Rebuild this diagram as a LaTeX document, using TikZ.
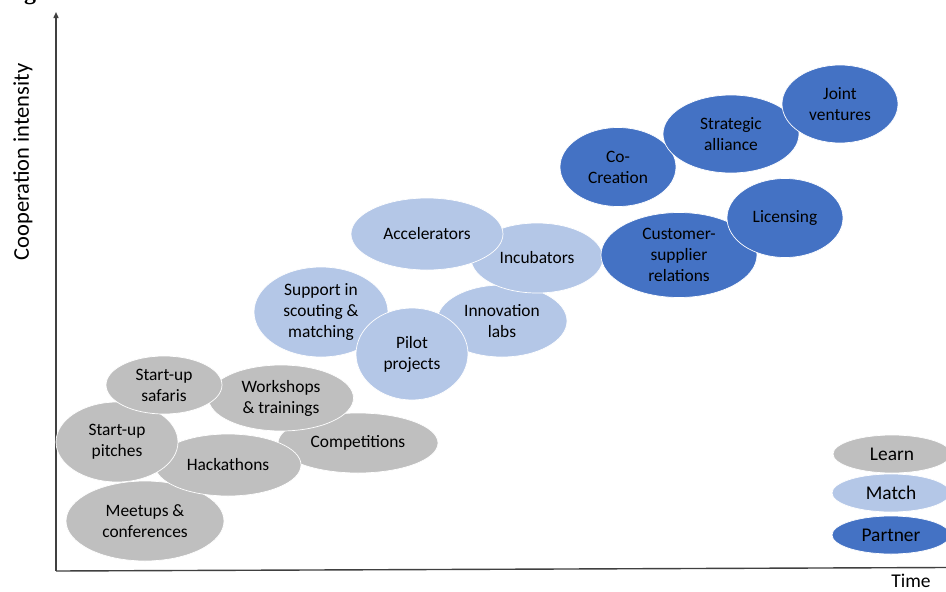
\documentclass[tikz,border=0pt]{standalone}
\usepackage{fontspec}
\setmainfont{Carlito}
\newfontfamily\capfont{Liberation Serif}
\usetikzlibrary{shapes.geometric,arrows.meta}
\definecolor{learncol}{HTML}{BFBFBF}
\definecolor{matchcol}{HTML}{B4C7E7}
\definecolor{partnercol}{HTML}{4472C4}
\definecolor{axiscol}{HTML}{404040}
\definecolor{txtcol}{HTML}{000000}
\tikzset{
  blob/.style={ellipse, inner sep=0pt, draw=white, line width=0.7pt, align=center,
    font=\fontsize{17.4}{21}\selectfont, text=txtcol},
  learn/.style={blob, fill=learncol},
  match/.style={blob, fill=matchcol},
  partner/.style={blob, fill=partnercol},
  legendtext/.style={font=\fontsize{19.4}{22}\selectfont},
  sz/.style 2 args={minimum width=#1, minimum height=#2},
  axis/.style={draw=axiscol, line width=1.4pt},
}
\begin{document}
\begin{tikzpicture}[x=1pt,y=-1pt]
\useasboundingbox (0,0) rectangle (946,592);
\clip (0,0) rectangle (946,592);
\fill[white] (0,0) rectangle (946,592);
% cut-off caption letter
\node[font=\capfont\bfseries\fontsize{24}{24}\selectfont, anchor=base, inner sep=0pt] (capg) at (30,-1) {g};
% axes
\coordinate (origin) at (56,571);
\coordinate (ytop) at (56,12);
\coordinate (xend) at (946,567.5);
\draw[axis] (origin) -- (xend);
\draw[axis, -{Triangle[length=6pt,width=5pt]}] (origin) -- (ytop);
\node[font=\fontsize{22.5}{24}\selectfont, rotate=90, text=txtcol] (ylab) at (23,162) {Cooperation intensity};
\node[font=\fontsize{19.5}{22}\selectfont, text=txtcol, inner sep=0pt] (xlab) at (911,581) {Time};
% Learn
\node[learn, sz={158pt}{80pt}] (meetups) at (145,521) {Meetups \&\\conferences};
\node[learn, sz={160pt}{60pt}] (comp) at (358,443) {Competitions};
\node[learn, sz={146pt}{62pt}] (hack) at (228,465) {Hackathons};
\node[learn, sz={122pt}{80pt}] (pitches) at (117,442) {Start-up\\pitches};
\node[learn, sz={145pt}{66pt}] (workshops) at (281,398) {Workshops\\\& trainings};
\node[learn, sz={116pt}{58pt}] (safaris) at (164,385) {Start-up\\safaris};
% Match
\node[match, sz={134pt}{90pt}] (support) at (321,312) {Support in\\scouting \&\\matching};
\node[match, sz={130pt}{72pt}] (innov) at (502,321) {Innovation\\labs};
\node[match, sz={112pt}{92pt}] (pilot) at (412,354) {Pilot\\projects};
\node[match, sz={132pt}{70pt}] (incub) at (537,258) {Incubators};
\node[match, sz={152pt}{72pt}] (accel) at (427,234) {Accelerators};
% Partner
\node[partner, sz={156pt}{85pt}] (custsup) at (679,255) {Customer-\\supplier\\relations};
\node[partner, sz={116pt}{79pt}] (licens) at (785,218) {Licensing};
\node[partner, sz={116pt}{79pt}] (cocre) at (618,167) {Co-\\Creation};
\node[partner, sz={136pt}{78pt}] (strat) at (731,134) {Strategic\\alliance};
\node[partner, sz={116pt}{78pt}] (joint) at (840,104) {Joint\\ventures};
% Legend
\node[learn, legendtext, sz={118pt}{38pt}] (leglearn) at (892,454) {Learn};
\node[match, legendtext, sz={118pt}{38pt}] (legmatch) at (891,493) {Match};
\node[partner, legendtext, sz={118pt}{38pt}] (legpartner) at (891,535) {Partner};
\end{tikzpicture}
\end{document}
